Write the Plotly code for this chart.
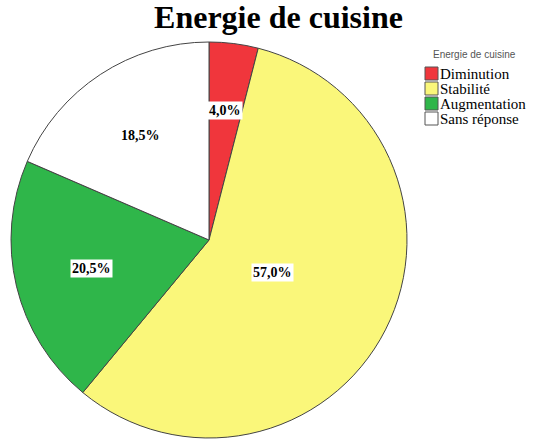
import math
import plotly.graph_objects as go

categories = ["Diminution", "Stabilité", "Augmentation", "Sans réponse"]
values = [4.0, 57.0, 20.5, 18.5]
colors = ["#F0363C", "#FAF77A", "#2FB64A", "#FFFFFF"]
label_radius = [0.66, 0.36, 0.61, 0.63]
chart_title = "Energie de cuisine"
legend_title = "Energie de cuisine"

W, H = 533, 441
cx, cy, r = 209, 240, 198
dom_x = [(cx - r) / W, (cx + r) / W]
dom_y = [(H - cy - r) / H, (H - cy + r) / H]

fig = go.Figure(go.Pie(
    labels=categories, values=values, sort=False, direction="clockwise",
    rotation=0, marker=dict(colors=colors, line=dict(color="#444444", width=1)),
    textinfo="none", hoverinfo="label+percent", showlegend=False,
    domain=dict(x=dom_x, y=dom_y),
))

total = sum(values)
cum = 0
annotations = []
for v, f in zip(values, label_radius):
    mid = (cum + v / 2) / total * 2 * math.pi
    cum += v
    px = cx + f * r * math.sin(mid)
    py = cy - f * r * math.cos(mid)
    annotations.append(dict(
        x=px / W, y=1 - py / H, xref="paper", yref="paper",
        xanchor="center", yanchor="middle",
        text=f"<b>{v:.1f}%</b>".replace(".", ","), showarrow=False,
        font=dict(family="Liberation Serif", size=14, color="black"),
        bgcolor="white", borderpad=1,
    ))

# legend (drawn manually to match the tight layout of the original)
lx, ly0, pitch, box = 425, 67, 15, 13
annotations.append(dict(
    x=474 / W, y=1 - 54 / H, xref="paper", yref="paper", showarrow=False,
    text=legend_title, xanchor="center", yanchor="middle",
    font=dict(family="Liberation Sans", size=10, color="#555555"),
))
shapes = []
for i, (name, col) in enumerate(zip(categories, colors)):
    top = ly0 + i * pitch
    shapes.append(dict(
        type="rect", xref="paper", yref="paper",
        x0=lx / W, x1=(lx + box) / W, y0=1 - top / H, y1=1 - (top + box) / H,
        fillcolor=col, line=dict(color="#555555", width=1),
    ))
    annotations.append(dict(
        x=(lx + box) / W, y=1 - (top + box / 2 + 0.5) / H,
        xref="paper", yref="paper", showarrow=False,
        text=name, xanchor="left", yanchor="middle",
        font=dict(family="Liberation Serif", size=15, color="black"),
    ))

fig.update_layout(
    width=W, height=H, margin=dict(l=0, r=0, t=0, b=0),
    paper_bgcolor="white", plot_bgcolor="white", showlegend=False,
    title=dict(text=f"<b>{chart_title}</b>", x=278.5 / W, xanchor="center",
               y=1 - 17 / H, yanchor="middle",
               font=dict(family="Liberation Serif", size=32, color="black")),
    annotations=annotations, shapes=shapes,
)

fig.write_html(
    "out.html",
    config={"displayModeBar": False},
    post_script="document.body.style.margin='0';document.body.style.overflow='hidden';",
)
